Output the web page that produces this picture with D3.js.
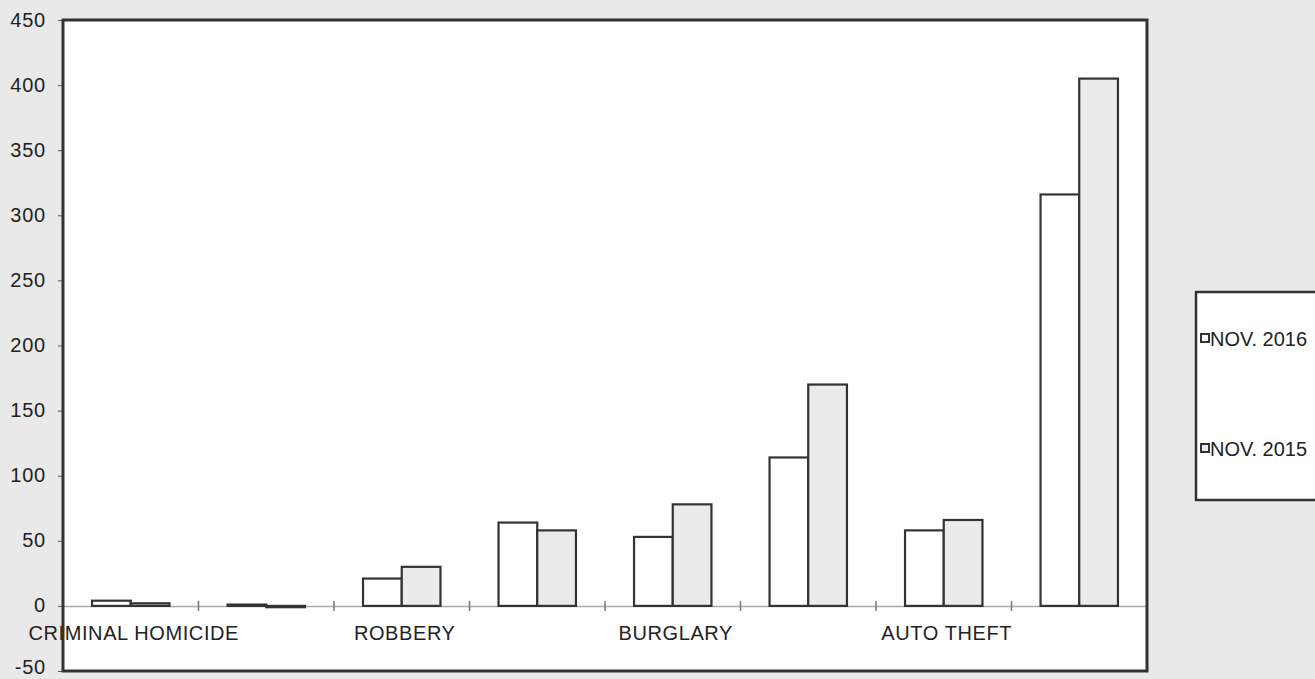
<!DOCTYPE html>
<html><head><meta charset="utf-8">
<script src="https://cdn.jsdelivr.net/npm/d3@7"></script>
<style>
html,body{margin:0;padding:0;background:#e9e9e9;}
svg{display:block;}
text{font-family:"Liberation Sans",Arial,sans-serif;fill:#222;}
</style></head>
<body>
<svg id="chart" width="1315" height="679"></svg>
<script>
const categories = ["CRIMINAL HOMICIDE","RAPE","ROBBERY","AGGRAVATED ASSAULT","BURGLARY","LARCENY","AUTO THEFT","TOTAL"];
const shownLabels = ["CRIMINAL HOMICIDE","ROBBERY","BURGLARY","AUTO THEFT"];
const seriesNames = ["NOV. 2016","NOV. 2015"];
const nov2016 = [4, 1, 21, 64, 53, 114, 58, 316];
const nov2015 = [2, -1, 30, 58, 78, 170, 66, 405];
const yTicks = [-50,0,50,100,150,200,250,300,350,400,450];
const seriesFill = ["#ffffff","#ebebeb"];

const svg = d3.select("#chart");
const L = 63, R = 1147, T = 20, B = 671;

const x = d3.scaleBand().domain(categories).range([L, R]).paddingInner(0).paddingOuter(0);
const xs = d3.scaleBand().domain(seriesNames).range([0, x.bandwidth()]).paddingInner(0).paddingOuter(0.75);
const y = d3.scaleLinear().domain([-50, 450]).range([B, T]);

// plot background
svg.append("rect").attr("x", L).attr("y", T).attr("width", R - L).attr("height", B - T).attr("fill", "#fff");

// y axis ticks + labels
const yAxis = d3.axisLeft(y).tickValues(yTicks).tickSize(4).tickPadding(12).tickFormat(d => String(d));
const gy = svg.append("g").attr("transform", `translate(${L - 1},0)`).call(yAxis);
gy.select(".domain").remove();
gy.selectAll(".tick line").attr("stroke", "#555");
gy.selectAll("text").attr("font-size", 20).attr("letter-spacing", "0.8px").attr("fill", "#222")
  .attr("dy", d => d === yTicks[0] ? "0.12em" : "0.3em")
  .attr("font-family", "Liberation Sans, Arial, sans-serif");

// zero line with category ticks
const gx = svg.append("g").attr("transform", `translate(0,${y(0)})`)
  .call(d3.axisBottom(x).tickValues([]).tickSizeOuter(0));
gx.select(".domain").attr("stroke", "#aaa").attr("stroke-width", 1.5);
const bounds = categories.slice(1).map(c => x(c));
svg.append("g").selectAll("line").data(bounds).join("line")
  .attr("x1", d => d).attr("x2", d => d)
  .attr("y1", y(0) - 5).attr("y2", y(0) + 5)
  .attr("stroke", "#777").attr("stroke-width", 1.5);

// bars
const data = categories.map((c, i) => ({cat: c, vals: [nov2016[i], nov2015[i]]}));
const groups = svg.append("g").selectAll("g").data(data).join("g")
  .attr("transform", d => `translate(${x(d.cat)},0)`);
groups.selectAll("rect").data(d => d.vals.map((v, j) => ({v, s: seriesNames[j], j})))
  .join("rect")
  .attr("x", d => xs(d.s))
  .attr("width", xs.bandwidth())
  .attr("y", d => y(Math.max(0, d.v)))
  .attr("height", d => Math.abs(y(d.v) - y(0)))
  .attr("fill", d => seriesFill[d.j])
  .attr("stroke", "#333").attr("stroke-width", 2.2);

// category labels
svg.append("g").selectAll("text").data(shownLabels).join("text")
  .attr("x", d => x(d) + x.bandwidth() / 2 + 3)
  .attr("y", 640)
  .attr("text-anchor", "middle")
  .attr("font-size", 20).attr("letter-spacing", "0.6px")
  .text(d => d);

// frame
svg.append("rect").attr("x", L).attr("y", T).attr("width", R - L).attr("height", B - T)
  .attr("fill", "none").attr("stroke", "#333").attr("stroke-width", 3);

// legend
const lg = svg.append("g");
lg.append("rect").attr("x", 1196).attr("y", 292).attr("width", 130).attr("height", 208)
  .attr("fill", "#fff").attr("stroke", "#333").attr("stroke-width", 2.5);
const legY = [339, 449];
seriesNames.forEach((s, i) => {
  lg.append("rect").attr("x", 1201).attr("y", legY[i] - 5).attr("width", 8).attr("height", 8)
    .attr("fill", seriesFill[i]).attr("stroke", "#333").attr("stroke-width", 2);
  lg.append("text").attr("x", 1210).attr("y", legY[i] + 7).attr("font-size", 20).text(s);
});
</script>
</body></html>
